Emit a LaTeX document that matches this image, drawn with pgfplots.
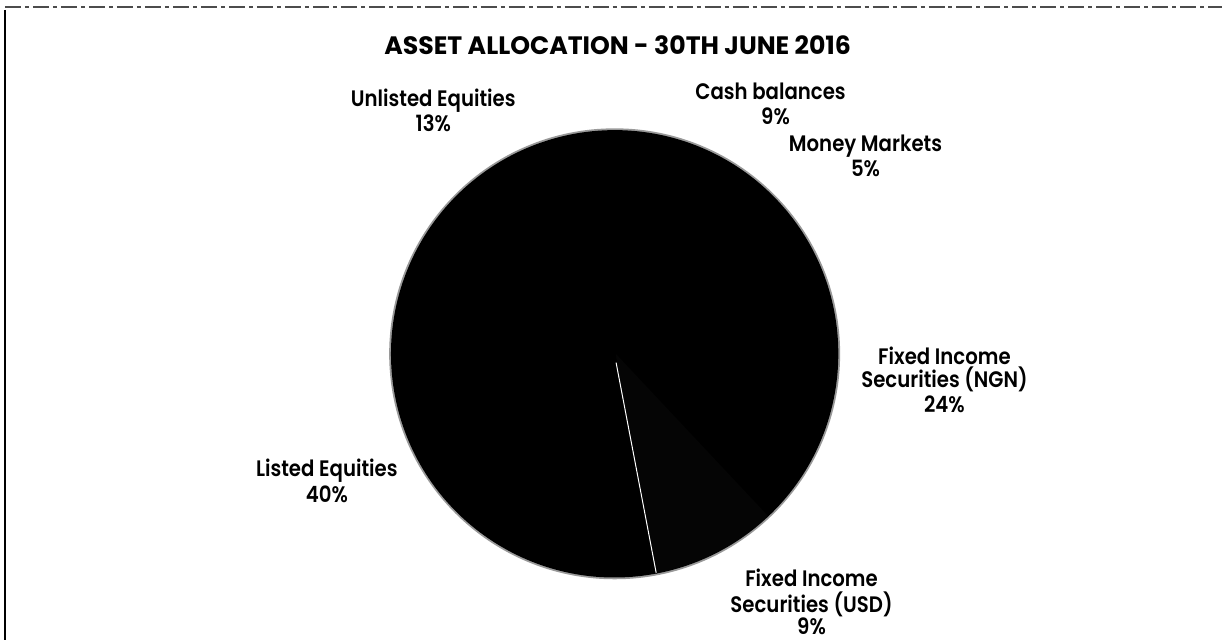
\documentclass[border=0pt]{standalone}
\usepackage{fontspec}
\setmainfont{Poppins}
\newfontfamily\labfont{Poppins}[UprightFont=* SemiBold, FakeStretch=0.88]
\usepackage{pgfplots}
\pgfplotsset{compat=1.18}
\usepackage{pgfplotstable}

\pgfplotstableread[col sep=comma]{
label,value,shade,edge
Cash balances,9,100,0
Money Markets,5,100,0
Fixed Income Securities (NGN),24,100,0
Fixed Income Securities (USD),9,98,0
Listed Equities,40,100,1
Unlisted Equities,13,100,0
}\piedata

\def\R{111.5bp}
\newcommand\lab{\labfont\fontsize{11.2bp}{13bp}\selectfont}

\begin{document}
\begin{tikzpicture}[x=0.5bp,y=0.5bp]
\path (0,0) rectangle (1223,640);
\coordinate (pc) at (615,286);
\draw[line width=1.1bp] (5,630) -- (5,0);
\draw[black!70, line width=0.7bp, dash pattern=on 8bp off 2bp on 2bp off 2bp] (5,633) -- (1223,633);
\begin{axis}[at={(pc)}, anchor=center, width=223bp, height=223bp,
  scale only axis, xmin=-1, xmax=1, ymin=-1, ymax=1, hide axis, clip=false]
\pgfplotsextra{
  \draw[black!40, line width=2.6bp] (axis cs:0,0) circle[radius=\R];
  \pgfplotstablegetrowsof{\piedata}%
  \pgfmathtruncatemacro\nrows{\pgfplotsretval-1}%
  \gdef\cum{0}%
  \pgfplotsforeachungrouped \i in {0,...,\nrows}{%
    \pgfplotstablegetelem{\i}{value}\of\piedata \let\v\pgfplotsretval
    \pgfplotstablegetelem{\i}{shade}\of\piedata \let\s\pgfplotsretval
    \pgfplotstablegetelem{\i}{edge}\of\piedata \let\e\pgfplotsretval
    \pgfmathsetmacro\a{90-3.6*\cum}%
    \pgfmathsetmacro\b{90-3.6*(\cum+\v)}%
    \filldraw[fill=black!\s, draw=black!\s, line width=0.8bp, line join=round] (axis cs:0,0) -- ++(\a:\R) arc[start angle=\a,end angle=\b,radius=\R] -- cycle;
    \ifnum\e=1 \draw[white, line width=0.5bp] (axis cs:0,0) ++(\a-1.5:0.04*\R) -- ++(\a:0.96*\R);\fi
    \pgfmathparse{\cum+\v}\xdef\cum{\pgfmathresult}%
  }%
}
\end{axis}
% title
\node[anchor=base, inner sep=0pt] at (618,585.7) {\fontsize{12.6bp}{14bp}\selectfont\bfseries ASSET ALLOCATION - 30TH JUNE 2016};
% labels
\node[anchor=base, inner sep=0pt] at (433.5,533) {\lab Unlisted Equities};
\node[anchor=base, inner sep=0pt] at (433.5,508.3) {\lab 13\%};
\node[anchor=base, inner sep=0pt] at (771,540) {\lab Cash balances};
\node[anchor=base, inner sep=0pt] at (776,515) {\lab 9\%};
\node[anchor=base, inner sep=0pt] at (866,488) {\lab Money Markets};
\node[anchor=base, inner sep=0pt] at (866,463) {\lab 5\%};
\node[anchor=base, inner sep=0pt] at (945,275) {\lab Fixed Income};
\node[anchor=base, inner sep=0pt] at (945,252) {\lab Securities (NGN)};
\node[anchor=base, inner sep=0pt] at (945,227) {\lab 24\%};
\node[anchor=base, inner sep=0pt] at (327,163.3) {\lab Listed Equities};
\node[anchor=base, inner sep=0pt] at (327,137) {\lab 40\%};
\node[anchor=base, inner sep=0pt] at (812,53) {\lab Fixed Income};
\node[anchor=base, inner sep=0pt] at (812,27) {\lab Securities (USD)};
\node[anchor=base, inner sep=0pt] at (812,5) {\lab 9\%};
\end{tikzpicture}
\end{document}
